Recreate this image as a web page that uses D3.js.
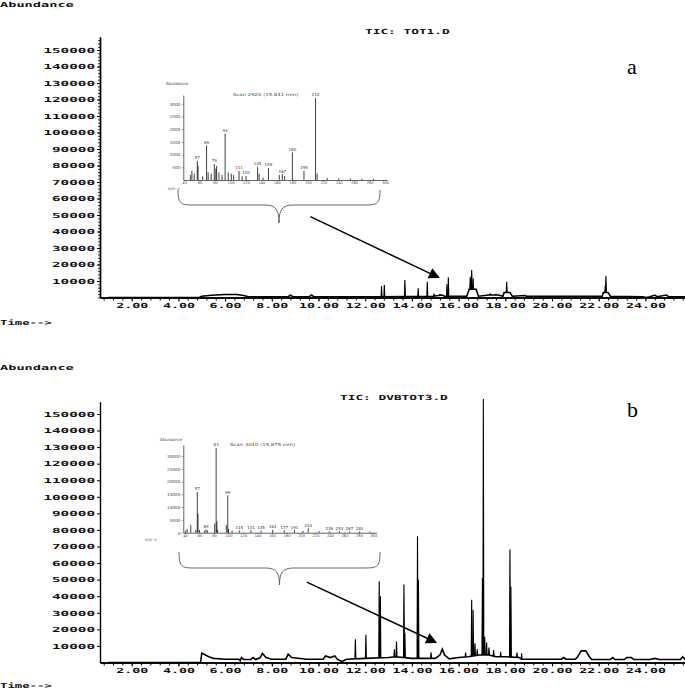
<!DOCTYPE html>
<html>
<head>
<meta charset="utf-8">
<script src="https://cdn.jsdelivr.net/npm/d3@7"></script>
<style>
  body { margin: 0; background: #fff; }
  svg { display: block; }
</style>
</head>
<body>
<div id="chart"></div>
<script>
// values
const timeLabels = [2, 4, 6, 8, 10, 12, 14, 16, 18, 20, 22, 24];
const abundanceLabels = [10000, 20000, 30000, 40000, 50000, 60000, 70000, 80000,
  90000, 100000, 110000, 120000, 130000, 140000, 150000];

// chromatogram a : baseline [time, abundance] and peaks [time, abundance]
const baseA = [[1.0, 0], [4.9, 0], [5.0, 800], [5.3, 1200], [5.6, 1500], [6.0, 1800], [6.5, 1800],
  [6.8, 1200], [7.0, 500], [8.7, 500], [8.8, 1500], [8.9, 500], [9.6, 500], [9.7, 1500], [9.8, 500],
  [12.6, 500], [14.9, 800], [15.3, 1500], [15.4, 800], [16.35, 800], [16.45, 5000], [16.75, 5000],
  [16.85, 800], [17.3, 1500], [17.7, 1500], [17.9, 800], [17.95, 3000], [18.2, 3000], [18.3, 800],
  [18.85, 1200], [18.9, 800], [22.15, 800], [22.2, 3000], [22.4, 3000], [22.5, 800], [23.9, 500],
  [24.0, 0], [24.2, 500], [24.4, 1500], [24.5, 500], [24.9, 1500], [25.0, 500], [25.8, 500]];
const peaksA = [[12.70, 7000], [12.82, 7600], [13.70, 10600], [14.27, 5600], [14.66, 9600],
  [14.95, 2400], [15.2, 2000], [15.50, 8000], [15.56, 12200], [16.50, 12600], [16.56, 16700],
  [16.62, 11600], [17.35, 2500], [17.6, 2200], [18.06, 9600], [22.28, 7000], [22.31, 13000]];

// chromatogram b
const baseB = [[1.0, 0], [4.95, 0], [5.0, 5600], [5.1, 5000], [5.3, 3500], [5.5, 2500], [6.0, 2000],
  [6.6, 2000], [6.65, 1000], [6.7, 3000], [6.8, 1800], [7.1, 1800], [7.2, 3000], [7.3, 1800],
  [7.5, 2800], [7.6, 5500], [7.75, 3000], [8.0, 2000], [8.6, 2000], [8.7, 5000], [8.85, 3000],
  [9.5, 2000], [10.2, 2000], [10.3, 4000], [10.5, 3000], [10.7, 4000], [10.8, 2000], [11.0, 600],
  [11.2, 2000], [12.0, 2500], [13.0, 3000], [13.3, 3500], [14.0, 2500], [15.0, 2500], [15.2, 4500],
  [15.3, 8000], [15.4, 4500], [15.6, 2200], [16.0, 3000], [16.4, 3500], [16.9, 4500], [17.3, 4500],
  [17.6, 3500], [18.0, 3500], [18.6, 3000], [18.7, 2000], [19.9, 2000], [20.4, 2000], [20.5, 3000],
  [20.6, 2000], [21.0, 2000], [21.1, 3500], [21.25, 7000], [21.45, 7000], [21.6, 3500], [21.7, 1800],
  [22.5, 1800], [22.6, 3000], [22.7, 1800], [23.1, 1800], [23.2, 3000], [23.4, 3000], [23.5, 1800],
  [24.2, 1800], [24.4, 2500], [24.6, 1800], [25.5, 1800], [25.6, 3500], [25.7, 1800]];
const peaksB = [[11.58, 14000], [12.03, 16700], [12.60, 49000], [12.65, 40000], [13.25, 8000],
  [13.34, 12600], [13.66, 47000], [13.70, 17900], [14.24, 76200], [14.28, 50000], [14.82, 6200],
  [16.3, 6000], [16.56, 37900], [16.62, 31800], [16.70, 11600], [16.8, 8000], [17.02, 51000],
  [17.06, 159000], [17.12, 15600], [17.2, 12000], [17.3, 9000], [17.5, 7500], [17.8, 6500],
  [18.2, 68200], [18.24, 45900], [18.5, 6000], [18.7, 5500]];

// arrows [time, abundance] from inset towards the scan
const arrowA = [[9.65, 49000], [15.2, 11800]];
const arrowB = [[9.5, 48500], [15.08, 11800]];

// inset a : mass spectrum
const insetAyTicks = [500, 1000, 1500, 2000, 2500, 3000];
const insetAxTicks = [40, 60, 80, 100, 120, 140, 160, 180, 200, 220, 240, 260, 280, 300];
const insetAPeaks = [[48, 200], [50, 360], [53, 250], [57, 760], [58, 560], [64, 150], [69, 1360],
  [71, 300], [75, 250], [79, 630], [81, 450], [82, 550], [85, 300], [89, 200], [93, 1830], [97, 300],
  [101, 250], [104, 200], [111, 360], [115, 150], [120, 160], [135, 520], [137, 250], [142, 100],
  [149, 470], [163, 200], [167, 230], [170, 150], [180, 1090], [195, 360], [210, 3230], [212, 250],
  [225, 80], [240, 60], [255, 60], [270, 50], [285, 50]];
const insetALabels = [57, 69, 79, 93, 111, 120, 135, 149, 167, 180, 195, 210];

// inset b : mass spectrum
const insetByTicks = [0, 5000, 10000, 15000, 20000, 25000, 30000];
const insetBxTicks = [40, 60, 80, 100, 120, 140, 160, 180, 200, 220, 240, 260, 280, 300];
const insetBPeaks = [[41, 800], [43, 1500], [48, 3000], [55, 1200], [57, 15900], [58, 7500],
  [60, 1000], [67, 800], [69, 1300], [71, 900], [81, 3600], [83, 33100], [84, 4500], [85, 1200],
  [97, 3000], [99, 14600], [100, 1500], [105, 800], [115, 900], [131, 1000], [145, 800], [161, 1100],
  [177, 900], [191, 1000], [203, 700], [210, 1700], [225, 600], [239, 500], [253, 600], [267, 500],
  [281, 500], [295, 500]];
const insetBLabels = [57, 69, 83, 99, 115, 131, 145, 161, 177, 191, 210, 239, 253, 267, 281];

const svg = d3.select('#chart').append('svg')
  .attr('width', 685).attr('height', 689)
  .style('background', '#fff');

// shared time axis
const x = d3.scaleLinear().domain([0.6424, 25.696]).range([100, 685]);
const minorTimes = d3.range(0.8, 25.7, 0.4);

function pix(str, px, py, perChar, anchor) {
  return svg.append('text')
    .attr('x', px).attr('y', py)
    .attr('text-anchor', anchor || 'start')
    .attr('font-family', 'DejaVu Sans Mono').attr('font-weight', 'bold').attr('font-size', 7)
    .attr('textLength', str.length * perChar).attr('lengthAdjust', 'spacingAndGlyphs')
    .attr('fill', '#111')
    .text(str);
}

function styleAxis(g, perChar) {
  g.selectAll('.domain').attr('stroke', '#000').attr('stroke-width', 1.4);
  g.selectAll('.tick line').attr('stroke', '#000').attr('stroke-width', 1);
  g.selectAll('text')
    .attr('font-family', 'DejaVu Sans Mono').attr('font-weight', 'bold').attr('font-size', 7)
    .attr('fill', '#111')
    .each(function () {
      d3.select(this).attr('textLength', this.textContent.length * perChar)
        .attr('lengthAdjust', 'spacingAndGlyphs');
    });
}

function drawArrow(pts, y) {
  const x0 = x(pts[0][0]), y0 = y(pts[0][1]);
  const x1 = x(pts[1][0]), y1 = y(pts[1][1]);
  const len = Math.hypot(x1 - x0, y1 - y0), ux = (x1 - x0) / len, uy = (y1 - y0) / len;
  const bx = x1 - ux * 11, by = y1 - uy * 11;
  svg.append('line').attr('x1', x0).attr('y1', y0).attr('x2', bx).attr('y2', by)
    .attr('stroke', '#000').attr('stroke-width', 1.5);
  svg.append('path')
    .attr('d', `M${x1},${y1}L${bx - uy * 5.5},${by + ux * 5.5}L${bx + uy * 5.5},${by - ux * 5.5}Z`)
    .attr('fill', '#000');
}

function drawPanel(p) {
  const y = d3.scaleLinear().domain([0, p.yTop]).range([p.y0, p.yEnd]);

  if (p.ruler) {
    const r = svg.append('g').attr('transform', 'translate(100,0)')
      .call(d3.axisLeft(y).tickValues(d3.range(0, p.yTop, 2000)).tickSize(2).tickSizeOuter(0).tickFormat(''));
    styleAxis(r, 8.6);
    r.selectAll('.tick line').attr('stroke-width', 0.8);
  }
  const ya = svg.append('g').attr('transform', 'translate(100,0)')
    .call(d3.axisLeft(y).tickValues(abundanceLabels).tickSize(3).tickSizeOuter(0).tickPadding(2)
      .tickFormat(d3.format('d')));
  styleAxis(ya, 8.6);

  const xm = svg.append('g').attr('transform', `translate(0,${p.y0})`)
    .call(d3.axisBottom(x).tickValues(minorTimes).tickSize(3).tickSizeOuter(0).tickFormat(''));
  styleAxis(xm, 8);
  const xa = svg.append('g').attr('transform', `translate(0,${p.y0})`)
    .call(d3.axisBottom(x).tickValues(timeLabels).tickSize(4).tickSizeOuter(0).tickPadding(2)
      .tickFormat(d3.format('.2f')));
  styleAxis(xa, 8);

  // baseline of the trace
  const line = d3.line().x(d => x(d[0])).y(d => y(d[1]));
  svg.append('path').datum(p.base).attr('d', line)
    .attr('fill', 'none').attr('stroke', '#000').attr('stroke-width', 1.6);

  // peaks drawn as narrow spikes standing on the baseline
  const baseAt = d3.scaleLinear().domain(p.base.map(d => d[0])).range(p.base.map(d => d[1])).clamp(true);
  svg.append('g').selectAll('path').data(p.peaks).join('path')
    .attr('d', d => {
      const b = y(baseAt(d[0]));
      return `M${x(d[0] - 0.02)},${b}L${x(d[0])},${y(d[1])}L${x(d[0] + 0.02)},${b}`;
    })
    .attr('fill', '#000').attr('stroke', '#000').attr('stroke-width', 1.1)
    .attr('stroke-linejoin', 'bevel');

  pix('Abundance', 0, p.abundY, 8.2);
  pix(p.title, p.titleX, p.titleY, 7.7);
  pix('Time-->', 0, p.timeY, 7.4);
  svg.append('text').attr('x', 627).attr('y', p.letterY)
    .attr('font-family', 'Liberation Serif').attr('font-size', 22).attr('fill', '#000')
    .text(p.letter);

  drawArrow(p.arrow, y);
}

function drawInset(c) {
  const g = svg.append('g');
  const xs = d3.scaleLinear().domain(c.mz).range(c.xr);
  const ys = d3.scaleLinear().domain([0, c.top]).range(c.yr);

  const ax = g.append('g').attr('transform', `translate(${c.xr[0]},0)`)
    .call(d3.axisLeft(ys).tickValues(c.yTicks).tickSize(1.5).tickSizeOuter(0).tickPadding(1.5)
      .tickFormat(d3.format('d')));
  const bx = g.append('g').attr('transform', `translate(0,${c.yr[0]})`)
    .call(d3.axisBottom(xs).tickValues(c.xTicks).tickSize(1.2).tickSizeOuter(0).tickPadding(0.6)
      .tickFormat(d3.format('d')));
  [ax, bx].forEach(a => {
    a.selectAll('.domain').attr('stroke', '#222').attr('stroke-width', 0.7);
    a.selectAll('.tick line').attr('stroke', '#222').attr('stroke-width', 0.5);
    a.selectAll('text').attr('font-family', 'DejaVu Sans').attr('font-size', 4.2).attr('fill', '#444');
  });
  bx.selectAll('text').attr('font-size', 3.6);

  g.append('g').selectAll('line').data(c.peaks).join('line')
    .attr('x1', d => xs(d[0])).attr('x2', d => xs(d[0]))
    .attr('y1', ys(0)).attr('y2', d => ys(d[1]))
    .attr('stroke', '#000').attr('stroke-width', 0.75);

  const labelled = c.peaks.filter(d => c.labels.includes(d[0]));
  g.append('g').selectAll('text').data(labelled).join('text')
    .attr('x', d => xs(d[0])).attr('y', d => ys(d[1]) - 1.6)
    .attr('text-anchor', 'middle')
    .attr('font-family', 'DejaVu Sans').attr('font-size', 4).attr('fill', '#333')
    .text(d => d[0]);

  const small = (str, px, py, w) => g.append('text').attr('x', px).attr('y', py)
    .attr('font-family', 'DejaVu Sans').attr('font-size', 4).attr('fill', '#444')
    .attr('textLength', w).attr('lengthAdjust', 'spacingAndGlyphs').text(str);
  small('Abundance', c.abund[0], c.abund[1], 22);
  small(c.title, c.titlePos[0], c.titlePos[1], 65);
  small('m/z-->', c.mzPos[0], c.mzPos[1], 12);

  // curly brace below the spectrum
  const b = c.brace, xc = (b.x1 + b.x2) / 2;
  g.append('path')
    .attr('d', `M${b.x1},${b.top}C${b.x1},${b.mid} ${b.x1 + 3},${b.mid} ${b.x1 + 18},${b.mid}` +
      `L${xc - 14},${b.mid}C${xc - 3},${b.mid} ${xc},${b.mid + 5} ${xc},${b.tip}` +
      `C${xc},${b.mid + 5} ${xc + 3},${b.mid} ${xc + 14},${b.mid}` +
      `L${b.x2 - 18},${b.mid}C${b.x2 - 3},${b.mid} ${b.x2},${b.mid} ${b.x2},${b.top}`)
    .attr('fill', 'none').attr('stroke', '#555').attr('stroke-width', 0.9);
}

drawPanel({
  base: baseA, peaks: peaksA, yTop: 157900, y0: 297.5, yEnd: 37, ruler: true,
  title: 'TIC: TOT1.D', titleX: 365, titleY: 33.5, abundY: 7, timeY: 325,
  letter: 'a', letterY: 74, arrow: arrowA
});
drawPanel({
  base: baseB, peaks: peaksB, yTop: 157400, y0: 662.5, yEnd: 401.7, ruler: false,
  title: 'TIC: DVBTOT3.D', titleX: 340, titleY: 399.5, abundY: 369.5, timeY: 688,
  letter: 'b', letterY: 416.5, arrow: arrowB
});

drawInset({
  mz: [38.9, 302.4], xr: [183.3, 387], top: 3350, yr: [180, 95],
  yTicks: insetAyTicks, xTicks: insetAxTicks, peaks: insetAPeaks, labels: insetALabels,
  abund: [166, 85], title: 'Scan 2920 (15.841 min)', titlePos: [233, 95.5], mzPos: [168, 189.5],
  brace: { x1: 178, x2: 380, top: 190, mid: 205, tip: 223 }
});
drawInset({
  mz: [37.7, 304.4], xr: [183.3, 376.7], top: 34300, yr: [532.7, 445],
  yTicks: insetByTicks, xTicks: insetBxTicks, peaks: insetBPeaks, labels: insetBLabels,
  abund: [160, 441], title: 'Scan 3010 (15.875 min)', titlePos: [230, 445.5], mzPos: [145, 540.5],
  brace: { x1: 179, x2: 380, top: 552, mid: 568, tip: 585 }
});
</script>
</body>
</html>
